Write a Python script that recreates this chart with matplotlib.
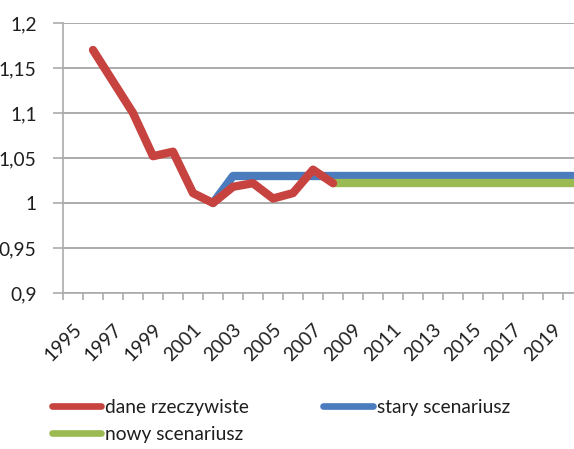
import matplotlib
matplotlib.use("Agg")
import matplotlib.pyplot as plt
from matplotlib.ticker import FixedLocator, FuncFormatter

plt.rcParams['font.family'] = ['Lato', 'DejaVu Sans']

years = list(range(1995, 2021))

# actual data (dane rzeczywiste), 1996-2008
real_years = list(range(1996, 2009))
real_vals = [1.17, 1.135, 1.10, 1.052, 1.057, 1.011, 1.0,
             1.018, 1.022, 1.005, 1.011, 1.037, 1.022]

# old scenario (stary scenariusz), 2002-2020
old_years = list(range(2002, 2021))
old_vals = [1.0, 1.03, 1.03, 1.03, 1.03, 1.03, 1.03, 1.03, 1.03, 1.03,
            1.03, 1.03, 1.03, 1.03, 1.03, 1.03, 1.03, 1.03, 1.03]

# new scenario (nowy scenariusz), 2008-2020
new_years = list(range(2008, 2021))
new_vals = [1.022, 1.022, 1.022, 1.022, 1.022, 1.022, 1.022,
            1.022, 1.022, 1.022, 1.022, 1.022, 1.022]

y_ticks = [0.9, 0.95, 1.0, 1.05, 1.1, 1.15, 1.2]
x_labels = years[::2]

RED = '#C6433F'
BLUE = '#4A7CBE'
GREEN = '#9BBB52'
GRID = '#ABABAB'
TEXT = '#1E1E1E'

W, H = 574, 449
fig = plt.figure(figsize=(W / 100, H / 100), dpi=100)
left, right, bottom, top = 63, 583, 293, 23
ax = fig.add_axes([left / W, 1 - bottom / H, (right - left) / W, (bottom - top) / H])

lw = 6.0
l_real, = ax.plot(real_years, real_vals, color=RED, lw=lw, solid_capstyle='round',
                  solid_joinstyle='round', label='dane rzeczywiste', zorder=3)
l_old, = ax.plot(old_years, old_vals, color=BLUE, lw=lw, solid_capstyle='round',
                 solid_joinstyle='round', label='stary scenariusz', zorder=2)
l_new, = ax.plot(new_years, new_vals, color=GREEN, lw=lw, solid_capstyle='round',
                 solid_joinstyle='round', label='nowy scenariusz', zorder=2)

ax.set_xlim(years[0] - 0.5, years[-1] + 0.5)
ax.set_ylim(0.9, 1.2)

ax.set_yticks(y_ticks)
ax.yaxis.set_major_formatter(FuncFormatter(lambda v, p: ('%g' % v).replace('.', ',')))
ax.grid(axis='y', color=GRID, lw=1.4)
ax.set_axisbelow(True)

# category boundaries get tick marks, category centres get labels
ax.xaxis.set_major_locator(FixedLocator(x_labels))
ax.set_xticklabels([str(y) for y in x_labels], rotation=45, ha='right',
                   va='top', rotation_mode='anchor')
ax.xaxis.set_minor_locator(FixedLocator([y - 0.5 for y in years] + [years[-1] + 0.5]))
ax.tick_params(axis='x', which='major', length=0, pad=20, labelsize=13.8, colors=TEXT)
ax.tick_params(axis='x', which='minor', length=5, width=1.2, color=GRID)
ax.tick_params(axis='y', length=7, width=1.2, color=GRID, pad=12, labelsize=13.8,
               labelcolor=TEXT)

for s in ['top', 'right']:
    ax.spines[s].set_visible(False)
for s in ['left', 'bottom']:
    ax.spines[s].set_color(GRID)
    ax.spines[s].set_linewidth(1.2)

leg = fig.legend(handles=[l_real, l_new, l_old], ncol=2, frameon=False,
                 loc='upper left', bbox_to_anchor=(42 / W, 1 - 389 / H),
                 fontsize=13.8, handlelength=2.6, handletextpad=0.2,
                 columnspacing=3.85, labelspacing=0.55, borderpad=0)
for t in leg.get_texts():
    t.set_color(TEXT)
for h in leg.legend_handles:
    h.set_linewidth(4.8)

fig.savefig('out.png', dpi=100)
